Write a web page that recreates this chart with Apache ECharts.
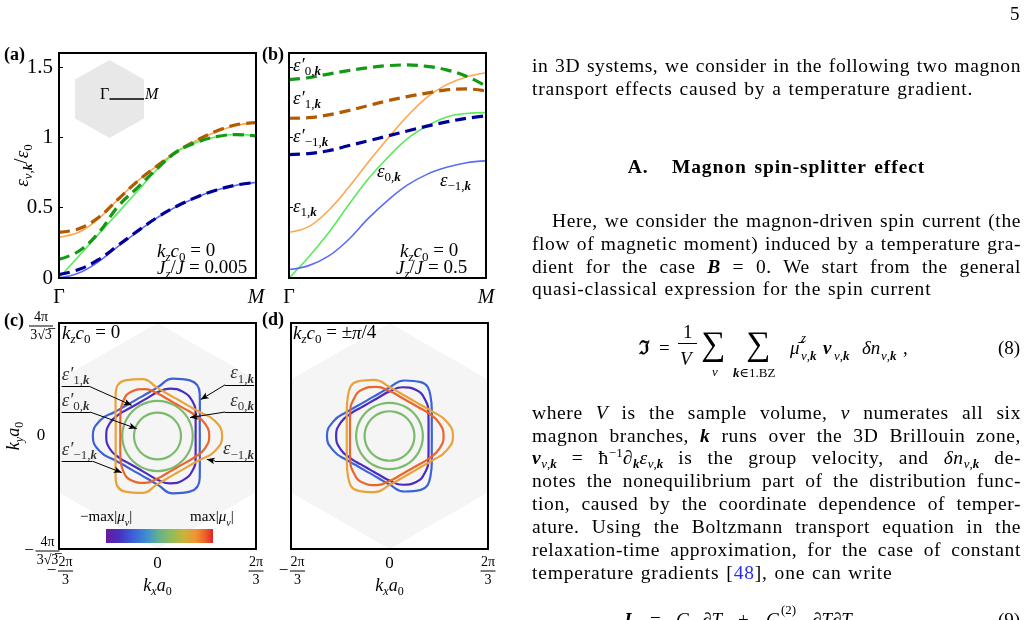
<!DOCTYPE html>
<html>
<head>
<meta charset="utf-8">
<title>Magnon bands</title>
<script src="https://cdn.jsdelivr.net/npm/echarts@6.0.0/dist/echarts.min.js"></script>
<style>
  html, body { margin:0; padding:0; background:#fff; width:1028px; height:620px; overflow:hidden; }
  #chart { position:absolute; left:0; top:0; width:1028px; height:620px; }
  #page { position:absolute; left:0; top:0; width:1028px; height:620px; overflow:hidden; z-index:2; pointer-events:none;
          font-family:'Liberation Serif','DejaVu Serif',serif; font-size:19.5px; color:#000; }
  .ln { position:absolute; left:532px; width:489px; height:23px; line-height:23px; }
  .jf { text-align:justify; text-align-last:justify; white-space:nowrap; letter-spacing:0.6px; }
  .lf { text-align:left; white-space:nowrap; letter-spacing:0.8px; word-spacing:1.2px; }
  .sb { font-size:13px; position:relative; top:4px; line-height:0; letter-spacing:0; }
  .sp { font-size:13px; position:relative; top:-7px; line-height:0; letter-spacing:0; }
  .m { position:absolute; line-height:1; white-space:nowrap; }
  .bi { font-weight:bold; font-style:italic; }
</style>
</head>
<body>
<div id="chart"></div>
<div id="page">
  <div class="m" style="left:1010px;top:4px;font-size:19px;">5</div>
  <div class="ln jf" style="top:54px;">in 3D systems, we consider in the following two magnon</div>
  <div class="ln lf" style="top:77px;">transport effects caused by a temperature gradient.</div>
  <div class="ln" style="top:155px;text-align:center;font-weight:bold;white-space:nowrap;letter-spacing:0.9px;word-spacing:2px;">A.&nbsp;&nbsp;&nbsp;Magnon spin-splitter effect</div>
  <div class="ln jf" style="top:209px;text-indent:20px;">Here, we consider the magnon-driven spin current (the</div>
  <div class="ln jf" style="top:231.5px;">flow of magnetic moment) induced by a temperature gra-</div>
  <div class="ln jf" style="top:254.5px;">dient for the case <span class="bi">B</span> = 0. We start from the general</div>
  <div class="ln lf" style="top:277px;">quasi-classical expression for the spin current</div>

  <div class="m" style="left:639px;top:338px;font-size:19px;font-weight:bold;">ℑ</div>
  <div class="m" style="left:659px;top:338px;font-size:19px;">=</div>
  <div class="m" style="left:683px;top:322px;font-size:19px;">1</div>
  <div style="position:absolute;left:678px;top:343px;width:19px;height:1px;background:#000;"></div>
  <div class="m" style="left:680px;top:349px;font-size:19px;font-style:italic;">V</div>
  <div class="m" style="left:701px;top:327px;font-size:34px;">∑</div>
  <div class="m" style="left:712px;top:365px;font-size:13px;font-style:italic;">ν</div>
  <div class="m" style="left:746px;top:327px;font-size:34px;">∑</div>
  <div class="m" style="left:733px;top:366px;font-size:13px;"><span class="bi">k</span>∈1.BZ</div>
  <div class="m" style="left:790px;top:338px;font-size:19px;font-style:italic;">μ̄</div>
  <div class="m" style="left:801px;top:331px;font-size:13px;font-style:italic;">z</div>
  <div class="m" style="left:801px;top:349px;font-size:13px;"><i>ν</i>,<span class="bi">k</span></div>
  <div class="m bi" style="left:823px;top:338px;font-size:19px;">v</div>
  <div class="m" style="left:834px;top:349px;font-size:13px;"><i>ν</i>,<span class="bi">k</span></div>
  <div class="m" style="left:862px;top:338px;font-size:19px;font-style:italic;">δn</div>
  <div class="m" style="left:881px;top:349px;font-size:13px;"><i>ν</i>,<span class="bi">k</span></div>
  <div class="m" style="left:903px;top:338px;font-size:19px;">,</div>
  <div class="m" style="left:998px;top:338px;font-size:19px;">(8)</div>

  <div class="ln jf" style="top:400.5px;">where <i>V</i> is the sample volume, <i>ν</i> numerates all six</div>
  <div class="ln jf" style="top:423.8px;">magnon branches, <span class="bi">k</span> runs over the 3D Brillouin zone,</div>
  <div class="ln jf" style="top:446.4px;"><span class="bi">v</span><span class="sb"><i>ν</i>,<span class="bi">k</span></span> = ħ<span class="sp">−1</span>∂<span class="sb"><span class="bi">k</span></span><i>ε</i><span class="sb"><i>ν</i>,<span class="bi">k</span></span> is the group velocity, and <i>δn</i><span class="sb"><i>ν</i>,<span class="bi">k</span></span> de-</div>
  <div class="ln jf" style="top:469.4px;">notes the nonequilibrium part of the distribution func-</div>
  <div class="ln jf" style="top:492.1px;">tion, caused by the coordinate dependence of temper-</div>
  <div class="ln jf" style="top:515.4px;">ature. Using the Boltzmann transport equation in the</div>
  <div class="ln jf" style="top:538.1px;">relaxation-time approximation, for the case of constant</div>
  <div class="ln lf" style="top:561.1px;">temperature gradients [<span style="color:#2b2bf0;">48</span>], one can write</div>

  <div class="m bi" style="left:622px;top:610px;font-size:19px;">J</div>
  <div class="m" style="left:650px;top:610px;font-size:19px;">=</div>
  <div class="m" style="left:676px;top:610px;font-size:19px;font-style:italic;">G</div>
  <div class="m" style="left:702px;top:610px;font-size:19px;">∂<i>T</i></div>
  <div class="m" style="left:738px;top:610px;font-size:19px;">+</div>
  <div class="m" style="left:766px;top:610px;font-size:19px;font-style:italic;">G</div>
  <div class="m" style="left:781px;top:603px;font-size:13px;">(2)</div>
  <div class="m" style="left:812px;top:610px;font-size:19px;">∂<i>T</i>∂<i>T</i></div>
  <div class="m" style="left:998px;top:610px;font-size:19px;">(9)</div>
</div>

<script>
// ---------------- data ----------------
const SERIF = "'Liberation Serif','DejaVu Serif',serif";

// path Gamma -> M (fraction of the path)
const T = [0, 0.1, 0.2, 0.3, 0.4, 0.5, 0.6, 0.7, 0.8, 0.9, 1.0];
const PATH_LABELS = ['Γ', 'M'];
const A_YTICK_LABELS = ['0', '0.5', '1', '1.5'];

// panel (a): kz c0 = 0, Jz/J = 0.005
const aE1   = [0.290, 0.325, 0.420, 0.560, 0.690, 0.800, 0.900, 0.980, 1.040, 1.085, 1.105];
const aE1p  = [0.325, 0.350, 0.430, 0.560, 0.690, 0.800, 0.900, 0.980, 1.045, 1.090, 1.105];
const aE0   = [0.000, 0.155, 0.310, 0.465, 0.620, 0.775, 0.900, 0.965, 1.005, 1.020, 1.010];
const aE0p  = [0.133, 0.190, 0.320, 0.510, 0.645, 0.780, 0.900, 0.965, 1.005, 1.020, 1.010];
const aEm1  = [0.000, 0.035, 0.115, 0.225, 0.330, 0.430, 0.510, 0.575, 0.625, 0.660, 0.680];
const aEm1p = [0.025, 0.060, 0.130, 0.232, 0.335, 0.432, 0.512, 0.576, 0.626, 0.661, 0.680];

// panel (b): kz c0 = 0, Jz/J = 0.5
const bE1   = [0.325, 0.365, 0.480, 0.640, 0.820, 0.990, 1.150, 1.285, 1.375, 1.430, 1.460];
const bE1p  = [1.136, 1.140, 1.160, 1.190, 1.225, 1.260, 1.290, 1.315, 1.338, 1.345, 1.330];
const bE0   = [0.000, 0.150, 0.320, 0.515, 0.700, 0.855, 0.990, 1.080, 1.145, 1.170, 1.176];
const bE0p  = [1.410, 1.425, 1.450, 1.475, 1.495, 1.510, 1.515, 1.505, 1.480, 1.435, 1.365];
const bEm1  = [0.060, 0.088, 0.155, 0.270, 0.420, 0.550, 0.660, 0.737, 0.787, 0.820, 0.833];
const bEm1p = [0.878, 0.885, 0.905, 0.940, 0.975, 1.010, 1.045, 1.080, 1.110, 1.135, 1.153];

// Brillouin-zone extents: 2pi/3 and 4pi/(3 sqrt3)
const KX = 2.0944, KY = 2.4184;

// iso-energy contours: radius (in k a0 units) read at polar angles
const ANG = [0,15,30,45,60,75,90,105,120,135,150,165,180,195,210,225,240,255,270,285,300,315,330,345];
// (c) kz c0 = 0
const cE1   = [0.90,0.93,1.04,1.27,1.375,1.27,1.04,0.93, 0.90,0.93,1.04,1.27,1.375,1.27,1.04,0.93, 0.90,0.93,1.04,1.27,1.375,1.27,1.04,0.93];
const cE1p  = [0.81,0.84,0.935,1.05,1.09,1.05,0.935,0.84, 0.81,0.84,0.935,1.05,1.09,1.05,0.935,0.84, 0.81,0.84,0.935,1.05,1.09,1.05,0.935,0.84];
const cEm1  = [1.375,1.26,1.03,0.92,0.89,0.92,1.03,1.26, 1.375,1.26,1.03,0.92,0.89,0.92,1.03,1.26, 1.375,1.26,1.03,0.92,0.89,0.92,1.03,1.26];
const cEm1p = [1.10,1.04,0.91,0.82,0.79,0.82,0.91,1.04, 1.10,1.04,0.91,0.82,0.79,0.82,0.91,1.04, 1.10,1.04,0.91,0.82,0.79,0.82,0.91,1.04];
const cE0   = [0.75,0.75,0.75,0.75,0.75,0.75,0.75,0.75, 0.75,0.75,0.75,0.75,0.75,0.75,0.75,0.75, 0.75,0.75,0.75,0.75,0.75,0.75,0.75,0.75];
const cE0p  = [0.50,0.50,0.50,0.50,0.50,0.50,0.50,0.50, 0.50,0.50,0.50,0.50,0.50,0.50,0.50,0.50, 0.50,0.50,0.50,0.50,0.50,0.50,0.50,0.50];
// (d) kz c0 = ±pi/4
const dE1   = [0.90,0.93,1.04,1.23,1.33,1.23,1.04,0.93, 0.90,0.93,1.04,1.23,1.33,1.23,1.04,0.93, 0.90,0.93,1.04,1.23,1.33,1.23,1.04,0.93];
const dE1p  = [0.83,0.86,0.955,1.08,1.135,1.08,0.955,0.86, 0.83,0.86,0.955,1.08,1.135,1.08,0.955,0.86, 0.83,0.86,0.955,1.08,1.135,1.08,0.955,0.86];
const dEm1  = [1.35,1.245,1.05,0.94,0.91,0.94,1.05,1.245, 1.35,1.245,1.05,0.94,0.91,0.94,1.05,1.245, 1.35,1.245,1.05,0.94,0.91,0.94,1.05,1.245];
const dEm1p = [1.15,1.09,0.965,0.87,0.84,0.87,0.965,1.09, 1.15,1.09,0.965,0.87,0.84,0.87,0.965,1.09, 1.15,1.09,0.965,0.87,0.84,0.87,0.965,1.09];
const dE0   = [0.71,0.71,0.71,0.71,0.71,0.71,0.71,0.71, 0.71,0.71,0.71,0.71,0.71,0.71,0.71,0.71, 0.71,0.71,0.71,0.71,0.71,0.71,0.71,0.71];
const dE0p  = [0.53,0.53,0.53,0.53,0.53,0.53,0.53,0.53, 0.53,0.53,0.53,0.53,0.53,0.53,0.53,0.53, 0.53,0.53,0.53,0.53,0.53,0.53,0.53,0.53];

// hexagons
const HEX_BZ = [[0,KY],[KX,KY/2],[KX,-KY/2],[0,-KY],[-KX,-KY/2],[-KX,KY/2]];
const HEX_INSET = [[0,1],[0.866,0.5],[0.866,-0.5],[0,-1],[-0.866,-0.5],[-0.866,0.5]];
const GM_LINE = [[0,0],[0.866,0]];

// annotations of panel (c): underline ends and arrow tip (k a0 units)
const ANNOT_C = [
  {text:'{i|ε′}{s|1,}{sb|k}',  side:'left',  under:[[-2.038,1.063],[-1.451,1.063]], tip:[-0.549,0.657]},
  {text:'{i|ε′}{s|0,}{sb|k}',  side:'left',  under:[[-2.038,0.513],[-1.436,0.513]], tip:[-0.443,0.158]},
  {text:'{i|ε′}{s|−1,}{sb|k}', side:'left',  under:[[-2.038,-0.541],[-1.379,-0.541]], tip:[-0.762,-0.783]},
  {text:'{i|ε}{s|1,}{sb|k}',   side:'right', under:[[1.436,1.095],[2.053,1.095]], tip:[0.919,0.779]},
  {text:'{i|ε}{s|0,}{sb|k}',   side:'right', under:[[1.436,0.513],[2.053,0.513]], tip:[0.691,0.394]},
  {text:'{i|ε}{s|−1,}{sb|k}',  side:'right', under:[[1.223,-0.535],[2.053,-0.535]], tip:[1.047,-0.499]}
];

const COL = {
  aE1:'#ffa650', aE1p:'#b35a00', aE0:'#5aea5a', aE0p:'#129a12', aEm1:'#5c6cf6', aEm1p:'#000099',
  c1:'#3d62d8', c1p:'#4a2dbf', c0:'#7dbb6c', cm1:'#eaa33b', cm1p:'#ec652b'
};

// ---------------- helpers ----------------
function rs(f) {
  const s = Math.round(f * 0.68);
  const base = {fontFamily: SERIF, color: '#000', fontWeight: 'normal'};
  return {
    i:  Object.assign({}, base, {fontStyle:'italic', fontSize:f, lineHeight:f+4}),
    r:  Object.assign({}, base, {fontStyle:'normal', fontSize:f, lineHeight:f+4}),
    s:  Object.assign({}, base, {fontStyle:'normal', fontSize:s, lineHeight:s, height:s-2, verticalAlign:'bottom'}),
    si: Object.assign({}, base, {fontStyle:'italic', fontSize:s, lineHeight:s, height:s-2, verticalAlign:'bottom'}),
    sb: Object.assign({}, base, {fontStyle:'italic', fontWeight:'bold', fontSize:s, lineHeight:s, height:s-2, verticalAlign:'bottom'})
  };
}
const FR = (function () {
  const base = {fontFamily: SERIF, color: '#000', fontWeight: 'normal', fontStyle: 'normal'};
  return {
    n:   Object.assign({}, base, {fontSize:14, lineHeight:14}),
    nt:  Object.assign({}, base, {fontSize:14, lineHeight:20, padding:[6,0,0,0]}),
    np:  Object.assign({}, base, {fontSize:14, lineHeight:14, padding:[0,0,0,13]}),
    npt: Object.assign({}, base, {fontSize:14, lineHeight:18, padding:[4,0,0,13]}),
    m:   Object.assign({}, base, {fontSize:17, lineHeight:3, width:13}),
    b1:  {width:24, height:1, lineHeight:4, backgroundColor:'#000', fontSize:1},
    b2:  {width:15, height:1, lineHeight:4, backgroundColor:'#000', fontSize:1},
    z:   Object.assign({}, base, {fontSize:17, lineHeight:18})
  };
})();

function curve(gi, ys, color, dashed) {
  return {
    type:'line', xAxisIndex:gi, yAxisIndex:gi, silent:true, symbol:'none', smooth:0.4,
    data: T.map((t, i) => [t, ys[i]]),
    lineStyle: {color: color, width: dashed ? 3.2 : 1.6, type: dashed ? [11, 6] : 'solid', cap:'butt'},
    z: dashed ? 3 : 2
  };
}
function loopPts(r, start) {
  const pts = [];
  for (let k = 0; k <= ANG.length; k++) {
    const i = (start + k) % ANG.length;
    const a = ANG[i] * Math.PI / 180;
    pts.push([r[i] * Math.cos(a), r[i] * Math.sin(a)]);
  }
  return pts;
}
function contour(gi, r, start, color) {
  return {
    type:'line', xAxisIndex:gi, yAxisIndex:gi, silent:true, symbol:'none', smooth:0.5,
    data: loopPts(r, start), lineStyle:{color: color, width: 2.2}, z:3
  };
}
function hexSeries(gi, verts, fill) {
  return {
    type:'custom', xAxisIndex:gi, yAxisIndex:gi, silent:true, z:1, data:[[0,0]],
    renderItem: function (params, api) {
      return {type:'polygon', shape:{points: verts.map(p => api.coord(p))}, style:{fill: fill}};
    }
  };
}
function tx(text, pos, f, bold) {
  return Object.assign({
    text: text, padding:0, itemGap:0,
    textStyle: {fontFamily:SERIF, fontSize:f, fontWeight: bold ? 'bold' : 'normal', color:'#000', rich: rs(f)}
  }, pos);
}
function fracLabel(v) {
  if (v > 1e-6) return '{nt|4π}\n{b1| }\n{n|3√3̅}';
  if (v < -1e-6) return '{npt|4π}\n{m|−}{b1| }\n{np|3√3̅}';
  return '{z|0}';
}
function fracLabelX(v) {
  if (v > 1e-6) return '{n|2π}\n{b2| }\n{n|3}';
  if (v < -1e-6) return '{np|2π}\n{m|−}{b2| }\n{np|3}';
  return '{z|0}';
}
function pathLabel(v) {
  return Math.abs(v) < 1e-6 ? '{r|' + PATH_LABELS[0] + '}' : '{i|' + PATH_LABELS[1] + '}';
}
function aYLabel(v) {
  const i = Math.round(v / 0.5);
  return (Math.abs(v - i * 0.5) < 1e-6 && A_YTICK_LABELS[i] !== undefined) ? A_YTICK_LABELS[i] : '';
}

// ---------------- axes ----------------
const hidden = {show:false};
const tickIn = {show:true, inside:true, length:4, lineStyle:{color:'#000', width:1}};
function pathX(gi) {
  return {type:'value', gridIndex:gi, min:0, max:1, interval:1, axisLine:hidden, axisTick:hidden, splitLine:hidden,
    axisLabel:{margin:8, formatter:pathLabel, rich: rs(20)}};
}
function bzX(gi) {
  return {type:'value', gridIndex:gi, min:-KX, max:KX, interval:KX, axisLine:hidden, axisTick:hidden, splitLine:hidden,
    axisLabel:{margin:6, formatter:fracLabelX, rich: FR, align:'center'},
    name:'{i|k}{si|x}{i|a}{s|0}', nameLocation:'middle', nameGap:26, nameMoveOverlap:false,
    nameTextStyle:{rich: rs(18)}};
}

const option = {
  animation:false,
  backgroundColor:'#fff',
  grid: [
    {left:59, top:53, width:197, height:225},
    {left:289, top:53, width:197, height:225},
    {left:59, top:323, width:197, height:226},
    {left:291, top:323, width:197, height:226},
    {left:75, top:60, width:69, height:78, show:false}
  ].map(g => Object.assign({show:true, borderColor:'#000', borderWidth:2, z:5, backgroundColor:'transparent',
                             containLabel:false, outerBoundsMode:'none'}, g)),
  xAxis: [
    pathX(0), pathX(1), bzX(2), bzX(3),
    {type:'value', gridIndex:4, min:-0.866, max:0.866, show:false}
  ],
  yAxis: [
    {type:'value', gridIndex:0, min:0, max:1.6, interval:0.5, axisLine:hidden, axisTick:tickIn, splitLine:hidden,
     axisLabel:{margin:6, fontSize:21, fontFamily:SERIF, color:'#000', showMaxLabel:false, formatter:aYLabel},
     name:'{i|ε}{si|ν,}{sb|k}{r|/}{i|ε}{s|0}', nameLocation:'middle', nameRotate:90, nameGap:25,
     nameMoveOverlap:false, nameTextStyle:{rich: rs(19)}},
    {type:'value', gridIndex:1, min:0, max:1.6, interval:0.5, axisLine:hidden, axisTick:tickIn, splitLine:hidden,
     axisLabel:hidden},
    {type:'value', gridIndex:2, min:-KY, max:KY, interval:KY, axisLine:hidden, axisTick:hidden, splitLine:hidden,
     axisLabel:{margin:18, align:'center', formatter:fracLabel, rich: FR},
     name:'{i|k}{si|y}{i|a}{s|0}', nameLocation:'middle', nameRotate:90, nameGap:34, nameMoveOverlap:false,
     nameTextStyle:{rich: rs(18)}},
    {type:'value', gridIndex:3, min:-KY, max:KY, interval:KY, axisLine:hidden, axisTick:hidden, splitLine:hidden,
     axisLabel:hidden},
    {type:'value', gridIndex:4, min:-1, max:1, show:false}
  ],
  title: [
    tx('(a)', {left:4, top:46}, 18, true),
    tx('(b)', {left:262, top:46}, 18, true),
    tx('(c)', {left:4, top:312}, 18, true),
    tx('(d)', {left:262, top:311}, 18, true),
    tx('{r|Γ}', {left:100, top:85}, 16),
    tx('{i|M}', {left:145, top:85}, 16),
    tx('{i|k}{si|z}{i|c}{s|0}{r| = 0}', {left:157, top:240}, 19),
    tx('{i|J}{si|z}{r|/}{i|J}{r| = 0.005}', {left:157, top:257}, 19),
    tx('{i|k}{si|z}{i|c}{s|0}{r| = 0}', {left:400, top:240}, 19),
    tx('{i|J}{si|z}{r|/}{i|J}{r| = 0.5}', {left:396, top:257}, 19),
    tx('{i|ε′}{s|0,}{sb|k}', {left:293, top:54}, 19),
    tx('{i|ε′}{s|1,}{sb|k}', {left:293, top:87}, 19),
    tx('{i|ε′}{s|−1,}{sb|k}', {left:293, top:125}, 19),
    tx('{i|ε}{s|1,}{sb|k}', {left:293, top:195}, 19),
    tx('{i|ε}{s|0,}{sb|k}', {left:377, top:160}, 19),
    tx('{i|ε}{s|−1,}{sb|k}', {left:440, top:169}, 19),
    tx('{i|k}{si|z}{i|c}{s|0}{r| = 0}', {left:62, top:322}, 19),
    tx('{i|k}{si|z}{i|c}{s|0}{r| = ±}{i|π}{r|/4}', {left:293, top:322}, 19),
    tx('{r|−max|}{i|μ}{si|ν}{r||}', {left:80, top:508}, 15),
    tx('{r|max|}{i|μ}{si|ν}{r||}', {left:190, top:508}, 15)
  ],
  graphic: [
    {type:'rect', left:106, top:529, silent:true, z:10,
     shape:{x:0, y:0, width:107, height:14},
     style:{fill: new echarts.graphic.LinearGradient(0, 0, 1, 0, [
       {offset:0.00, color:'#6a1b9c'},
       {offset:0.12, color:'#4a2fc0'},
       {offset:0.25, color:'#3b60d8'},
       {offset:0.38, color:'#3f8ecf'},
       {offset:0.50, color:'#66b28c'},
       {offset:0.62, color:'#92bd58'},
       {offset:0.73, color:'#cdb23a'},
       {offset:0.84, color:'#ee9434'},
       {offset:0.93, color:'#ec5e2b'},
       {offset:1.00, color:'#df2626'}
     ])}}
  ],
  series: [
    // (a)
    curve(0, aE1, COL.aE1, false), curve(0, aE0, COL.aE0, false), curve(0, aEm1, COL.aEm1, false),
    curve(0, aE1p, COL.aE1p, true), curve(0, aE0p, COL.aE0p, true), curve(0, aEm1p, COL.aEm1p, true),
    // (b)
    curve(1, bE1, COL.aE1, false), curve(1, bE0, COL.aE0, false), curve(1, bEm1, COL.aEm1, false),
    curve(1, bE1p, COL.aE1p, true), curve(1, bE0p, COL.aE0p, true), curve(1, bEm1p, COL.aEm1p, true),
    // inset Brillouin zone
    hexSeries(4, HEX_INSET, '#e8e8e8'),
    {type:'line', xAxisIndex:4, yAxisIndex:4, silent:true, symbol:'none', data:GM_LINE,
     lineStyle:{color:'#000', width:1.5}, z:3},
    // (c)
    hexSeries(2, HEX_BZ, '#f5f5f5'),
    contour(2, cE0p, 0, COL.c0), contour(2, cE0, 0, COL.c0),
    contour(2, cE1, 0, COL.c1), contour(2, cE1p, 0, COL.c1p),
    contour(2, cEm1, 12, COL.cm1), contour(2, cEm1p, 12, COL.cm1p),
    {type:'scatter', xAxisIndex:2, yAxisIndex:2, silent:true, symbolSize:1, itemStyle:{color:'transparent'}, z:6,
     data: ANNOT_C.map(a => ({
       value: a.side === 'left' ? a.under[0] : a.under[1],
       label: {show:true, position:'inside', formatter:a.text, align:a.side, verticalAlign:'bottom', rich: rs(19)}
     })),
     markLine: {
       silent:true, symbol:['none','arrow'], symbolSize:[5,8], label:{show:false},
       lineStyle:{color:'#000', width:1, type:'solid'},
       emphasis:{disabled:true},
       data: [].concat(
         ANNOT_C.map(a => [{coord:a.under[0], symbol:'none'}, {coord:a.under[1], symbol:'none'}]),
         ANNOT_C.map(a => [{coord: a.side === 'left' ? a.under[1] : a.under[0], symbol:'none'}, {coord:a.tip, symbol:'arrow'}])
       )
     }},
    // (d)
    hexSeries(3, HEX_BZ, '#f5f5f5'),
    contour(3, dE0p, 0, COL.c0), contour(3, dE0, 0, COL.c0),
    contour(3, dE1, 0, COL.c1), contour(3, dE1p, 0, COL.c1p),
    contour(3, dEm1, 12, COL.cm1), contour(3, dEm1p, 12, COL.cm1p)
  ]
};

const chart = echarts.init(document.getElementById('chart'), null, {renderer:'canvas', width:1028, height:620});
chart.setOption(option);
</script>
</body>
</html>
